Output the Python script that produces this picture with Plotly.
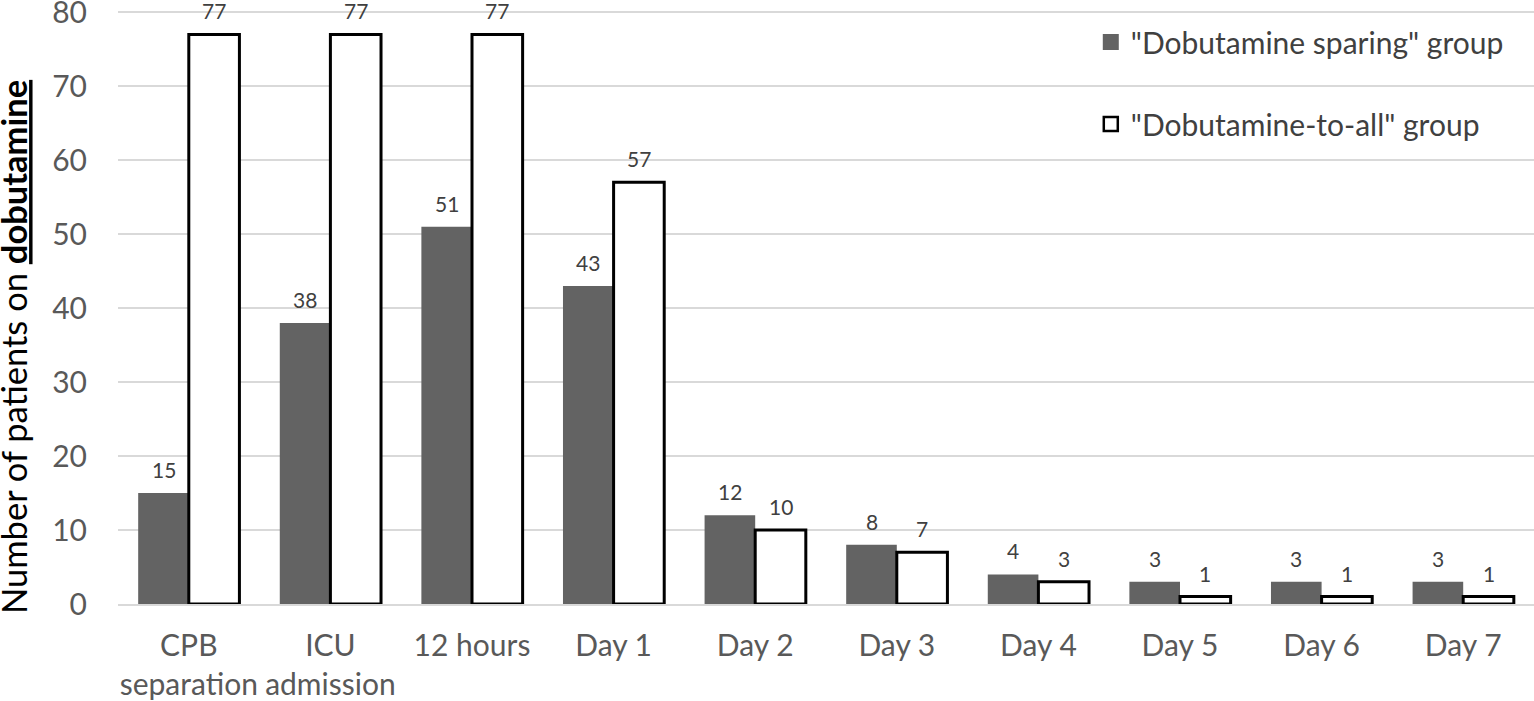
import plotly.graph_objects as go

categories = ["CPB<br>separation", "ICU<br>admission", "12 hours", "Day 1", "Day 2",
              "Day 3", "Day 4", "Day 5", "Day 6", "Day 7"]
sparing = [15, 38, 51, 43, 12, 8, 4, 3, 3, 3]
to_all = [77, 77, 77, 57, 10, 7, 3, 1, 1, 1]
y_ticks = [0, 10, 20, 30, 40, 50, 60, 70, 80]
names = ['"Dobutamine sparing" group', '"Dobutamine-to-all" group']
y_title = "Number of patients on <b><u>dobutamine</u></b>"

FONT = "Lato"
DARK = "#636363"

fig = go.Figure()
fig.add_trace(go.Bar(
    x=categories, y=sparing, name=names[0], showlegend=False,
    marker=dict(color=DARK, line=dict(color=DARK, width=0)),
    legendgroup="a",
))
fig.add_trace(go.Bar(
    x=categories, y=to_all, name=names[1], showlegend=False,
    marker=dict(color="white", line=dict(color="black", width=3)),
    legendgroup="b",
))
# legend-only entries with larger square swatches
fig.add_trace(go.Scatter(
    x=[None], y=[None], mode="markers", name=names[0], legendgroup="a",
    marker=dict(symbol="square", size=16, color=DARK, line=dict(width=0)),
))
fig.add_trace(go.Scatter(
    x=[None], y=[None], mode="markers", name=names[1], legendgroup="b",
    marker=dict(symbol="square", size=14, color="white",
                line=dict(color="black", width=2.5)),
))

# value labels above bars (positioned by data coordinates, shifted to each bar of the group)
for series, shift in ((sparing, -25.3), (to_all, 25.3)):
    for cat, val in zip(categories, series):
        fig.add_annotation(x=cat, y=val, text=str(val), showarrow=False,
                           xshift=shift, yshift=9, yanchor="bottom",
                           font=dict(size=21, color="#404040", family=FONT))

fig.add_annotation(x=-0.0734, y=0.4327, xref="paper", yref="paper",
                   text=y_title, textangle=-90, showarrow=False,
                   xanchor="center", yanchor="middle",
                   font=dict(size=34.5, color="black", family=FONT))

fig.update_layout(
    width=1534, height=701,
    margin=dict(l=118, r=0, t=10, b=97, autoexpand=False),
    paper_bgcolor="white", plot_bgcolor="white",
    barmode="group", bargap=0.285, bargroupgap=0,
    font=dict(family=FONT, color="#595959"),
    legend=dict(x=0.687, y=0.99, xanchor="left", yanchor="top",
                font=dict(size=30, color="#404040", family=FONT),
                traceorder="grouped", tracegroupgap=40,
                bgcolor="rgba(0,0,0,0)"),
    xaxis=dict(tickfont=dict(size=30, color="#595959"), showgrid=False,
               automargin=False, ticklabelstandoff=14,
               showline=True, linecolor="#d9d9d9", linewidth=2, ticks=""),
    yaxis=dict(range=[0, 80.3], tickvals=y_ticks, showgrid=True,
               automargin=False, ticklabeloverflow="allow",
               gridcolor="#d9d9d9", gridwidth=1.5, zeroline=False,
               tickfont=dict(size=30, color="#595959"), ticks="",
               ticklabelstandoff=30),
)

fig.write_html("out.html", config={"displayModeBar": False},
               post_script="document.body.style.margin='0';")
